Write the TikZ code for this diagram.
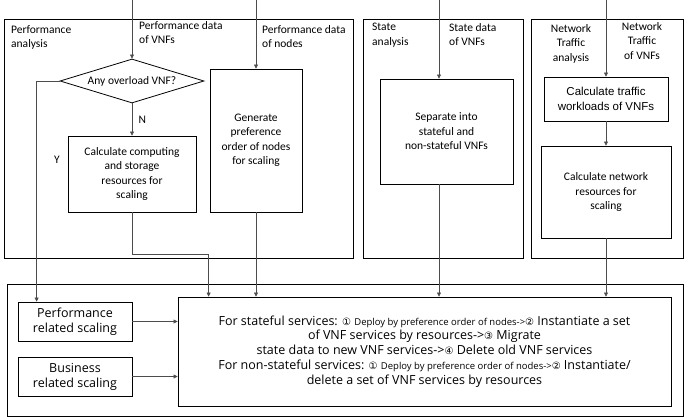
\documentclass[tikz,border=0pt]{standalone}
\usepackage{fontspec}
\setmainfont{Carlito}
\newfontfamily\segoefont{Open Sans}
\newfontfamily\arialfont{Liberation Sans}
\newfontfamily\circfont{DejaVu Sans}
\usetikzlibrary{shapes,calc,positioning,arrows.meta}
\newcommand{\cnum}[1]{{\circfont\fontsize{10}{10}\selectfont #1}}
\newcommand{\smalltxt}[1]{{\fontsize{9.5}{10}\selectfont #1}}

\begin{document}
\begin{tikzpicture}[x=1pt,y=-1pt,
    every node/.append style={font=\fontsize{11.5}{14.5}\selectfont},
    box/.style={draw, line width=0.8pt, align=center, inner sep=2pt},
    scalebox/.style={box, minimum width=114, minimum height=39,
                     font=\segoefont\fontsize{12.5}{15}\selectfont},
    panel/.style={draw, line width=0.8pt},
    link/.style={draw=black!70, line width=0.5pt, -{Triangle[length=4pt,width=4pt]}},
    lbl/.style={align=left, anchor=north west, inner sep=0pt},
    clbl/.style={align=center, anchor=north, inner sep=0pt}]
    \useasboundingbox (0,0) rectangle (685,420);
    \draw[panel] (4,19) rectangle (353,258);
    \draw[panel] (363,19) rectangle (523,258);
    \draw[panel] (531,19) rectangle (683,258);
    \draw[panel] (7,284) rectangle (683,416);

    \node[lbl] (perflbl) at (11,25) {Performance\\analysis};
    \node[lbl] (perfvnf) at (139,21) {Performance data\\of VNFs};
    \node[lbl] (perfnode) at (262,25) {Performance data\\of nodes};
    \node[lbl] (statelbl) at (372,23) {State\\analysis};
    \node[lbl] (statevnf) at (449,23) {State data\\of VNFs};
    \node[clbl] (netlbl) at (571,24) {Network\\Traffic\\analysis};
    \node[clbl] (netvnf) at (642,22) {Network\\Traffic\\of VNFs};

    \coordinate (inperf) at (132,0);
    \coordinate (innode) at (256,0);
    \coordinate (instate) at (439,0);
    \coordinate (innet) at (606,0);

    \node[draw, diamond, aspect=3.3, inner sep=0pt, line width=0.8pt,
          minimum width=144, minimum height=44] (overload) at (132,81) {Any overload VNF?};
    \node[box, minimum width=128, minimum height=76] (calccomp) at (132,174)
        {Calculate computing\\and storage\\resources for\\scaling};
    \node[box, minimum width=92, minimum height=143] (genorder) at (256,140.5)
        {Generate\\preference\\order of nodes\\for scaling};
    \node[box, minimum width=133, minimum height=105] (separate) at (446.5,131.5)
        {Separate into\\stateful and\\non-stateful VNFs};
    \node[box, minimum width=124, minimum height=44,
          font=\arialfont\fontsize{11.5}{14.5}\selectfont] (trafficload) at (606,99)
        {Calculate traffic\\workloads of VNFs};
    \node[box, minimum width=130, minimum height=92] (netres) at (606,192)
        {Calculate network\\resources for\\scaling};

    \node[scalebox] (perfscale) at (75,321.5) {Performance\\related scaling};
    \node[scalebox] (busscale) at (75,376.5) {Business\\related scaling};
    \node[box, minimum width=493, minimum height=109,
          font=\segoefont\fontsize{12.5}{14.8}\selectfont] (deploy) at (424.5,351.5)
        {For stateful services: \cnum{①} \smalltxt{Deploy by preference order of nodes->}\cnum{②} Instantiate a set\\
         of VNF services by resources->\cnum{③} Migrate\\
         state data to new VNF services->\cnum{④} Delete old VNF services\\
         For non-stateful services: \cnum{①} \smalltxt{Deploy by preference order of nodes->}\cnum{②} Instantiate/\\
         delete a set of VNF services by resources};

    \draw[link] (inperf) -- (overload.north);
    \draw[link] (innode) -- (genorder.north);
    \draw[link] (instate) -- (instate |- separate.north);
    \draw[link] (innet) -- (trafficload.north);
    \draw[link] (overload.south) -- node[right, xshift=3pt] (nlbl) {N} (calccomp.north);
    \draw[link] (overload.west) -| ($(perfscale.north west)+(19,0)$);
    \node (ylbl) at (57,160) {Y};
    \draw[link] (trafficload.south) -- (netres.north);

    \draw[link] (calccomp.south) -- ++(0,42) -| ($(deploy.north west)+(31,0)$);
    \draw[link] (genorder.south) -- (genorder.south |- deploy.north);
    \draw[link] (instate |- separate.south) -- (instate |- deploy.north);
    \draw[link] (netres.south) -- (netres.south |- deploy.north);
    \draw[link] (perfscale.east) -- (perfscale.east -| deploy.west);
    \draw[link] (busscale.east) -- (busscale.east -| deploy.west);
\end{tikzpicture}
\end{document}
